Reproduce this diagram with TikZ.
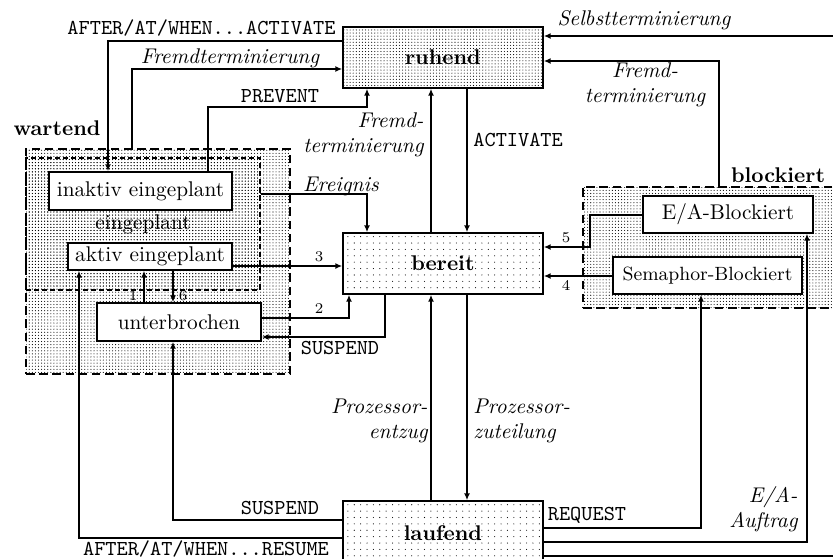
\documentclass[tikz,border=0pt]{standalone}
\usetikzlibrary{patterns,arrows.meta}

% dot fillings: a sparse one for active states, a dense one for passive areas
\pgfdeclarepatternformonly{sparsedots}{\pgfqpoint{-0.1pt}{-0.1pt}}{\pgfqpoint{3.1pt}{3.1pt}}{\pgfqpoint{3pt}{3pt}}%
  {\pgfpathcircle{\pgfqpoint{1.5pt}{1.5pt}}{0.26pt}\pgfusepath{fill}}
\pgfdeclarepatternformonly{densedots}{\pgfqpoint{-0.1pt}{-0.1pt}}{\pgfqpoint{1.6pt}{1.6pt}}{\pgfqpoint{1.45pt}{1.45pt}}%
  {\pgfpathcircle{\pgfqpoint{0.7pt}{0.7pt}}{0.26pt}\pgfusepath{fill}}

\tikzset{
  sz/.style 2 args={minimum width=#1*0.47pt, minimum height=#2*0.47pt, inner sep=0pt},
  stbox/.style={draw, line width=0.75pt},
  wbox/.style={draw, fill=white, line width=0.75pt},
  region/.style={draw, line width=0.9pt, dash pattern=on 4pt off 2.2pt, pattern=densedots},
  subregion/.style={draw, line width=0.65pt, dash pattern=on 2.4pt off 1.4pt, pattern=densedots},
  arr/.style={line width=0.75pt, -{Latex[length=3.2pt,width=2.8pt]}},
  plain/.style={line width=0.75pt},
  lbl/.style={inner sep=0pt},
  num/.style={inner sep=0pt, font=\scriptsize},
}

\begin{document}
\begin{tikzpicture}[x=0.47pt, y=-0.47pt]
\clip (0,0) rectangle (833,559);

% waiting and blocked areas
\node[region, sz={264}{225}] (wartend) at (158,261.5) {};
\node[subregion, sz={234}{132}] (eingeplant) at (143,224) {eingeplant};
\node[region, sz={262}{121}] (blockiert) at (714,247.5) {};
\node[lbl] (lwartend) at (57,128) {\textbf{wartend}};
\node[lbl] (lblockiert) at (778,175) {\textbf{blockiert}};

% main states
\node[stbox, pattern=densedots, sz={200}{61}] (ruhend) at (443,57.5) {\textbf{ruhend}};
\node[stbox, pattern=sparsedots, sz={200}{61}] (bereit) at (443,263.5) {\textbf{bereit}};
\node[stbox, pattern=sparsedots, sz={200}{64}] (laufend) at (443,533) {\textbf{laufend}};

% sub-states
\node[wbox, sz={183}{38}] (inaktiv) at (140.5,191) {inaktiv eingeplant};
\node[wbox, sz={164}{27}] (aktiv) at (150,256.5) {aktiv eingeplant};
\node[wbox, sz={164}{38}] (unterbrochen) at (179,322) {unterbrochen};
\node[wbox, sz={170}{37}] (eab) at (728,214.5) {E/A-Blockiert};
\node[wbox, sz={189}{37}] (sema) at (707.5,275.5) {\small Semaphor-Blockiert};

% free ends at the right border
\coordinate (selbst) at (840,36);
\coordinate (rechts) at (840,556);

% transitions around ruhend
\draw[arr] (ruhend.west |- 0,41) -| (108,0 |- inaktiv.north);
\draw[arr] (132,0 |- wartend.north) |- (ruhend.west |- 0,69);
\draw[arr] (208,0 |- inaktiv.north) |- (367,107) -- (367,0 |- ruhend.south);
\draw[arr] (431,0 |- bereit.north) -- (431,0 |- ruhend.south);
\draw[arr] (467,0 |- ruhend.south) -- (467,0 |- bereit.north);
\draw[arr] (selbst) -- (ruhend.east |- selbst);
\draw[arr] (719,0 |- blockiert.north) |- (ruhend.east |- 0,61);

% transitions around bereit
\draw[arr] (eingeplant.east |- 0,194) -| (367,0 |- bereit.north);
\draw[arr] (aktiv.east |- 0,266) -- (bereit.west |- 0,266);
\draw[arr] (unterbrochen.east |- 0,318) -| (349,0 |- bereit.south);
\draw[arr] (385,0 |- bereit.south) |- (unterbrochen.east |- 0,337);
\draw[arr] (144,0 |- unterbrochen.north) -- (144,0 |- aktiv.south);
\draw[arr] (173,0 |- aktiv.south) -- (173,0 |- unterbrochen.north);
\draw[arr] (eab.west |- 0,215) -| (590,247) -- (bereit.east |- 0,247);
\draw[arr] (sema.west |- 0,276) -- (bereit.east |- 0,276);

% transitions around laufend
\draw[arr] (431,0 |- laufend.north) -- (431,0 |- bereit.south);
\draw[arr] (467,0 |- bereit.south) -- (467,0 |- laufend.north);
\draw[arr] (laufend.west |- 0,520) -| (173,0 |- unterbrochen.south);
\draw[arr] (laufend.west |- 0,538) -| (79,0 |- aktiv.south);
\draw[arr] (laufend.east |- 0,528) -| (701,0 |- sema.south);
\draw[arr] (laufend.east |- 0,542) -| (807,0 |- eab.south);
\draw[plain] (laufend.east |- rechts) -- (rechts);

% transition labels
\node[lbl, anchor=east] (l1) at (336,28) {\ttfamily AFTER/AT/WHEN...ACTIVATE};
\node[lbl] (l2) at (230,58) {\itshape Fremdterminierung};
\node[lbl] (l3) at (280,96) {\ttfamily PREVENT};
\node[lbl, anchor=east, align=right] (l4) at (424,135) {\itshape Fremd-\\\itshape terminierung};
\node[lbl, anchor=west] (l5) at (473,140) {\ttfamily ACTIVATE};
\node[lbl] (l6) at (644,20) {\itshape Selbstterminierung};
\node[lbl, align=center] (l7) at (645,85) {\itshape Fremd-\\\itshape terminierung};
\node[lbl] (l8) at (341,186) {\itshape Ereignis};
\node[num] (n3) at (319,257) {3};
\node[num] (n2) at (319,309) {2};
\node[num] (n1) at (133,296) {1};
\node[num] (n6) at (183,296) {6};
\node[num] (n5) at (566,238) {5};
\node[num] (n4) at (566,285) {4};
\node[lbl] (l9) at (340,348) {\ttfamily SUSPEND};
\node[lbl, anchor=east, align=right] (l10) at (428,421) {\itshape Prozessor-\\\itshape entzug};
\node[lbl, anchor=west, align=left] (l11) at (473,421) {\itshape Prozessor-\\\itshape zuteilung};
\node[lbl] (l12) at (280,508) {\ttfamily SUSPEND};
\node[lbl] (l13) at (206,549) {\ttfamily AFTER/AT/WHEN...RESUME};
\node[lbl] (l14) at (587,515) {\ttfamily REQUEST};
\node[lbl, anchor=east, align=right] (l15) at (798,509) {\itshape E/A-\\\itshape Auftrag};
\end{tikzpicture}
\end{document}
